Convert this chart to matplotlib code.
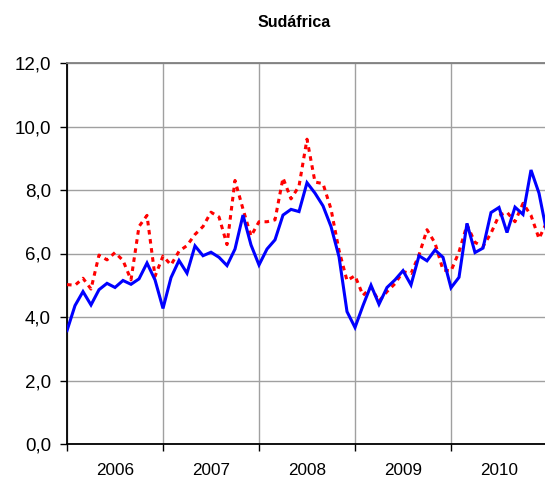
import matplotlib
matplotlib.use("Agg")
import matplotlib.pyplot as plt
from matplotlib.ticker import FixedLocator, NullFormatter

plt.rcParams['font.family'] = ['Liberation Sans', 'DejaVu Sans']

title = "Sudáfrica"
years = ["2006", "2007", "2008", "2009", "2010"]
yticks = [0, 2, 4, 6, 8, 10, 12]
ytick_labels = ["0,0", "2,0", "4,0", "6,0", "8,0", "10,0", "12,0"]

# monthly values, Jan 2006 .. Jan 2011
blue = [3.57, 4.36, 4.80, 4.38, 4.86, 5.06, 4.93, 5.15, 5.03, 5.20, 5.70, 5.17,
        4.27, 5.24, 5.78, 5.38, 6.24, 5.93, 6.04, 5.88, 5.62, 6.14, 7.21, 6.27,
        5.64, 6.14, 6.43, 7.21, 7.39, 7.32, 8.23, 7.90, 7.50, 6.85, 5.90, 4.17,
        3.67, 4.36, 5.00, 4.40, 4.93, 5.17, 5.46, 5.01, 5.93, 5.77, 6.11, 5.88,
        4.92, 5.25, 6.95, 6.03, 6.17, 7.29, 7.45, 6.66, 7.46, 7.23, 8.63, 7.90,
        6.63]
red = [5.02, 5.00, 5.22, 4.88, 5.95, 5.80, 6.03, 5.78, 5.17, 6.85, 7.20, 5.28,
       5.92, 5.64, 6.07, 6.25, 6.60, 6.85, 7.30, 7.15, 6.28, 8.30, 7.40, 6.55,
       7.00, 7.00, 7.06, 8.38, 7.72, 8.12, 9.60, 8.25, 8.20, 7.40, 6.10, 5.15,
       5.30, 4.68, 4.93, 4.50, 4.80, 5.05, 5.43, 5.37, 5.95, 6.75, 6.33, 5.48,
       5.45, 6.05, 6.90, 6.35, 6.22, 6.64, 7.20, 7.30, 7.00, 7.58, 7.20, 6.47,
       7.00]

W, H = 545, 480
fig = plt.figure(figsize=(W / 100, H / 100), dpi=100)
left = 67 / W
bottom = 1 - 444 / H
top = 1 - 63 / H
ax = fig.add_axes([left, bottom, 1.0 - left, top - bottom])

x = list(range(len(blue)))
ax.plot(x, red, color="#FF0000", lw=2.2, linestyle=(0, (1.5, 1.5)), zorder=3)
ax.plot(x, blue, color="#0000FF", lw=2.2, zorder=4, solid_joinstyle='miter')

ax.set_xlim(0, (W - 67) / 8.0)
ax.set_ylim(0, 12)

ax.set_yticks(yticks)
ax.set_yticklabels(ytick_labels)

major_x = [12 * i for i in range(len(years))]
minor_x = [12 * i + 6 for i in range(len(years))]
ax.xaxis.set_major_locator(FixedLocator(major_x))
ax.xaxis.set_major_formatter(NullFormatter())
ax.xaxis.set_minor_locator(FixedLocator(minor_x))
ax.set_xticklabels(years, minor=True)

ax.tick_params(axis='x', which='major', length=5, width=1, color='black', direction='out')
ax.tick_params(axis='x', which='minor', length=0, pad=14, labelsize=12.3)
ax.tick_params(axis='y', which='major', length=5, width=1, color='black', direction='out',
               pad=6.5, labelsize=13.5)

ax.grid(True, which='major', axis='both', color='#A0A0A0', lw=1.0)
ax.set_axisbelow(True)

ax.spines['left'].set_color('black')
ax.spines['left'].set_linewidth(1.3)
ax.spines['bottom'].set_color('black')
ax.spines['bottom'].set_linewidth(1.3)
ax.spines['top'].set_color('#808080')
ax.spines['top'].set_linewidth(1.3)
ax.spines['right'].set_visible(False)

fig.text(294 / W, 1 - 22.6 / H, title, ha='center', va='center',
         fontsize=11.5, fontweight='bold')

fig.savefig("out.png", dpi=100)
